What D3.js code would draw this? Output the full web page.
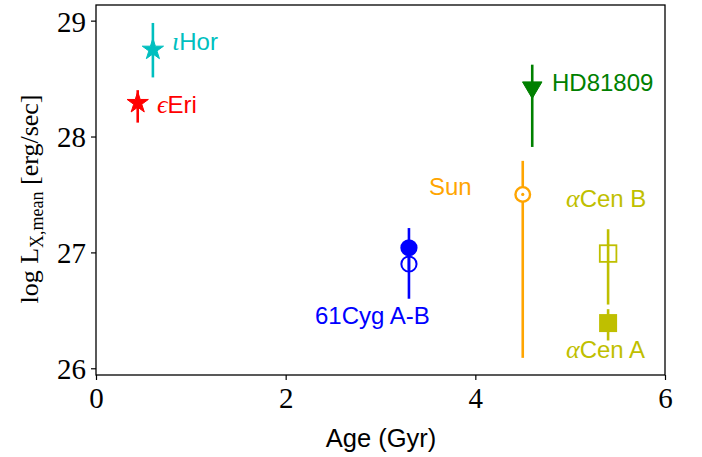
<!DOCTYPE html>
<html><head><meta charset="utf-8">
<script src="https://cdn.jsdelivr.net/npm/d3@7"></script>
<style>body{margin:0;background:#fff}svg{display:block}</style>
</head><body><svg id="c" width="702" height="457"></svg>
<script>
// ---- data ----
const stars = ["iHor","eEri","HD81809","Sun","61CygA","61CygB","aCenB","aCenA"];
const ages  = [0.60, 0.44, 4.60, 4.50, 3.30, 3.30, 5.40, 5.40];
const logLx = [28.75, 28.29, 28.40, 27.50, 27.04, 26.90, 26.99, 26.39];
const errLo = [28.51, 28.12, 27.91, 26.09, 26.85, 26.60, 26.55, 26.24];
const errHi = [28.98, 28.40, 28.62, 27.79, 27.21, 27.05, 27.20, 26.51];
const xTicks = [0, 2, 4, 6];
const yTicks = [26, 27, 28, 29];
const labelNames = ["ιHor","ϵEri","HD81809","Sun","61Cyg A-B","αCen B","αCen A"];

// ---- styles ----
const colors = {iHor:"#00bfbf",eEri:"#ff0000",HD81809:"#008000",Sun:"#ffa500",
  "61CygA":"#0000ff","61CygB":"#0000ff",aCenB:"#bfbf00",aCenA:"#bfbf00"};
const markers = {iHor:"star",eEri:"star",HD81809:"tri",Sun:"sun",
  "61CygA":"circleFill","61CygB":"circleOpen",aCenB:"squareOpen",aCenA:"squareFill"};

const svg = d3.select("#c");
const L=96, R=665, T=5, B=375;
const x = d3.scaleLinear().domain([0,6]).range([L,R]);
const y = d3.scaleLinear().domain([25.942,29.135]).range([B,T]);

const serif = "'Liberation Serif','DejaVu Serif',serif";
const sans = "'Liberation Sans',Arial,sans-serif";

// axes
const gx = svg.append("g").attr("transform",`translate(0,${B})`)
  .call(d3.axisBottom(x).tickValues(xTicks).tickSize(5).tickPadding(6).tickFormat(d3.format("d")));
const gy = svg.append("g").attr("transform",`translate(${L},0)`)
  .call(d3.axisLeft(y).tickValues(yTicks).tickSize(5).tickPadding(5).tickFormat(d3.format("d")));
[gx,gy].forEach(g=>{
  g.select(".domain").remove();
  g.selectAll("line").attr("stroke","#000").attr("stroke-width",1.2);
  g.selectAll("text").attr("font-family",serif).attr("font-size",29).attr("fill","#000");
});
gx.selectAll("text").attr("dy","0.75em");
gy.selectAll("text").attr("dy","0.36em");

svg.append("rect").attr("x",L).attr("y",T).attr("width",R-L).attr("height",B-T)
  .attr("fill","none").attr("stroke","#000").attr("stroke-width",1.3);

// error bars
stars.forEach((s,i)=>{
  svg.append("line").attr("x1",x(ages[i])).attr("x2",x(ages[i]))
    .attr("y1",y(errLo[i])).attr("y2",y(errHi[i]))
    .attr("stroke",colors[s]).attr("stroke-width",2.6);
});

// markers
const triDown = {draw(ctx,size){const r=Math.sqrt(size)/2; ctx.moveTo(-r,-r*0.85); ctx.lineTo(r,-r*0.85); ctx.lineTo(0,r*0.85); ctx.closePath();}};
stars.forEach((s,i)=>{
  const cx=x(ages[i]), cy=y(logLx[i]), c=colors[s], m=markers[s];
  const g=svg.append("g").attr("transform",`translate(${cx},${cy})`);
  if(m==="star"){
    g.append("path").attr("d",d3.symbol().type(d3.symbolStar).size(140)()).attr("fill",c).attr("stroke",c).attr("stroke-width",1);
  } else if(m==="tri"){
    g.append("path").attr("d",d3.symbol().type(triDown).size(380)()).attr("fill",c).attr("stroke",c).attr("stroke-width",1);
  } else if(m==="sun"){
    g.append("circle").attr("r",7.3).attr("fill","#fff").attr("stroke",c).attr("stroke-width",2.4);
    g.append("circle").attr("r",1.6).attr("fill",c);
  } else if(m==="circleFill"){
    g.append("circle").attr("r",8.6).attr("fill",c);
  } else if(m==="circleOpen"){
    g.append("circle").attr("r",7.6).attr("fill","none").attr("stroke",c).attr("stroke-width",2);
  } else if(m==="squareOpen"){
    g.append("rect").attr("x",-8.3).attr("y",-8.3).attr("width",16.6).attr("height",16.6).attr("fill","none").attr("stroke",c).attr("stroke-width",1.8);
  } else if(m==="squareFill"){
    g.append("rect").attr("x",-9).attr("y",-9).attr("width",18).attr("height",18).attr("fill",c);
  }
});

// labels
const labelPos = [[172,50],[157,113],[552,91],[429,195],[315,324],[566,207],[566,358]];
const labelColor = ["#00bfbf","#ff0000","#008000","#ffa500","#0000ff","#bfbf00","#bfbf00"];
labelNames.forEach((t,i)=>{
  const tx = svg.append("text").attr("x",labelPos[i][0]).attr("y",labelPos[i][1])
    .attr("fill",labelColor[i]).attr("font-family",sans).attr("font-size",24);
  const first = t[0];
  if("ιϵα".includes(first)){
    tx.append("tspan").attr("font-family",serif).attr("font-style","italic").attr("font-size",26).text(first);
    tx.append("tspan").text(t.slice(1));
  } else tx.text(t);
});

// axis titles
svg.append("text").attr("x",381).attr("y",447).attr("text-anchor","middle")
  .attr("font-family",sans).attr("font-size",25.5).attr("fill","#000").text("Age (Gyr)");
const yl = svg.append("text").attr("transform","translate(38,199) rotate(-90)")
  .attr("text-anchor","middle").attr("font-family",serif).attr("font-size",26).attr("fill","#000");
yl.append("tspan").text("log L");
yl.append("tspan").attr("font-size",18).attr("dy",5).text("X,mean");
yl.append("tspan").attr("dy",-5).text(" [erg/sec]");
</script></body></html>
